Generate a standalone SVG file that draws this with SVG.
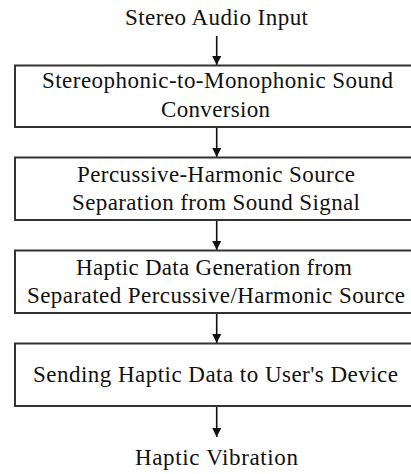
<svg xmlns="http://www.w3.org/2000/svg" width="411" height="474" viewBox="0 0 411 474">
<defs>
<marker id="ah" markerWidth="9" markerHeight="9" refX="9" refY="4.5" orient="auto" markerUnits="userSpaceOnUse">
<path d="M0,0 L9,4.5 L0,9 Z" fill="#111"/>
</marker>
<style>
.box{fill:#fff;stroke:#333;stroke-width:2}
.t{font-family:"Liberation Serif","Times New Roman",serif;font-size:23px;fill:#111;text-anchor:middle}
.c{stroke:#111;stroke-width:1.6;fill:none}
</style>
</defs>
<rect width="411" height="474" fill="#fff"/>
<g id="connectors">
<line class="c" x1="216.7" y1="36" x2="216.7" y2="65" marker-end="url(#ah)"/>
<line class="c" x1="216.7" y1="127" x2="216.7" y2="157" marker-end="url(#ah)"/>
<line class="c" x1="216.7" y1="220" x2="216.7" y2="250" marker-end="url(#ah)"/>
<line class="c" x1="216.7" y1="313" x2="216.7" y2="343" marker-end="url(#ah)"/>
<line class="c" x1="216.7" y1="406" x2="216.7" y2="437" marker-end="url(#ah)"/>
</g>
<g id="input">
<text class="t" x="216.5" y="25" textLength="183" lengthAdjust="spacing">Stereo Audio Input</text>
</g>
<g id="box1">
<rect class="box" x="15" y="65.5" width="405" height="61.5"/>
<text class="t" x="217.5" y="88" textLength="351" lengthAdjust="spacing">Stereophonic-to-Monophonic Sound</text>
<text class="t" x="215.5" y="117" textLength="109" lengthAdjust="spacing">Conversion</text>
</g>
<g id="box2">
<rect class="box" x="15" y="157.5" width="405" height="62.5"/>
<text class="t" x="216" y="182" textLength="278" lengthAdjust="spacing">Percussive-Harmonic Source</text>
<text class="t" x="216" y="210" textLength="288" lengthAdjust="spacing">Separation from  Sound Signal</text>
</g>
<g id="box3">
<rect class="box" x="15" y="250.5" width="405" height="62.5"/>
<text class="t" x="214" y="275" textLength="276" lengthAdjust="spacing">Haptic Data Generation from</text>
<text class="t" x="216" y="303" textLength="378" lengthAdjust="spacing">Separated Percussive/Harmonic Source</text>
</g>
<g id="box4">
<rect class="box" x="15" y="343.5" width="405" height="62.5"/>
<text class="t" x="215.5" y="382" textLength="365" lengthAdjust="spacing">Sending Haptic Data to User's Device</text>
</g>
<g id="output">
<text class="t" x="216.5" y="465" textLength="163" lengthAdjust="spacing">Haptic Vibration</text>
</g>
</svg>
